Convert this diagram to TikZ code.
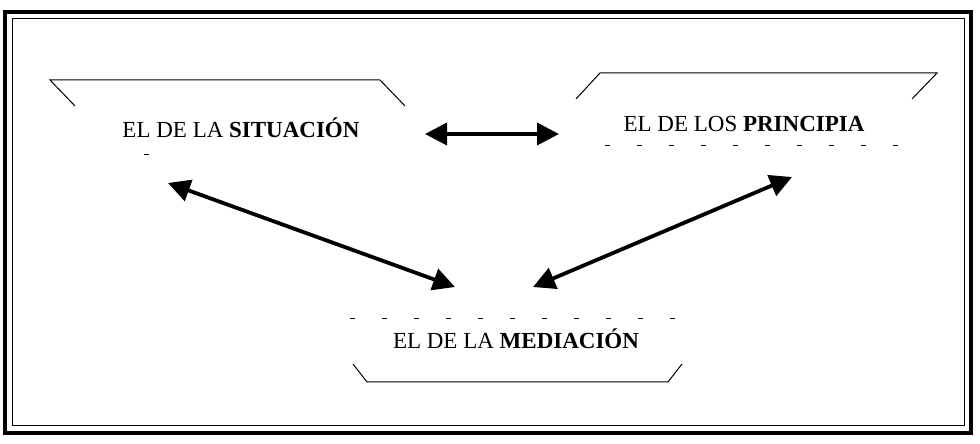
\documentclass[tikz,border=0pt]{standalone}
\usepackage{fontspec}
\setmainfont{Liberation Serif}
\usetikzlibrary{arrows.meta}

\begin{document}
\begin{tikzpicture} [x = 1pt, y = 1pt, arr/.style = {line width = 3.8pt, {Triangle[length = 22pt, width = 22pt]}-{Triangle[length = 22pt, width = 22pt]}}, lbl/.style = {font = \fontsize{23}{27}\selectfont, inner sep = 0pt, anchor = base}, rim/.style = {line width = 1pt}, ghost/.style = {line width = 0.8pt, dash pattern = on 5pt off 27pt}]
\useasboundingbox (0, 0) rectangle (980, 444);
\draw[line width = 3.5pt] (5, 11) rectangle (971, 432);
\draw[line width = 1pt] (12, 18) rectangle (964, 425);
\draw[rim] (75, 338) -- (50, 364) -- (380, 364) -- (405, 338);
\draw[rim] (576, 345) -- (600, 371) -- (937, 371) -- (912, 345);
\draw[rim] (353, 80) -- (367, 62) -- (668, 62) -- (682, 80);
\draw[ghost] (144, 290) -- (150, 290);
\draw[ghost] (605, 299) -- (900, 299);
\draw[ghost] (350, 126) -- (685, 126);
\node[lbl] (sit) at (241, 306){EL DE LA \textbf{SITUACIÓN}};
\node[lbl] (prin) at (744, 312){EL DE LOS \textbf{PRINCIPIA}};
\node[lbl] (med) at (516, 95){EL DE LA \textbf{MEDIACIÓN}};
\coordinate (sitE) at (425, 310);
\coordinate (prinW) at (559, 310);
\coordinate (sitS) at (168, 261);
\coordinate (prinS) at (792, 267);
\coordinate (medW) at (455, 157);
\coordinate (medE) at (533, 157);
\draw[arr] (sitE) -- (prinW);
\draw[arr] (sitS) -- (medW);
\draw[arr] (prinS) -- (medE);
\end{tikzpicture}
\end{document}
